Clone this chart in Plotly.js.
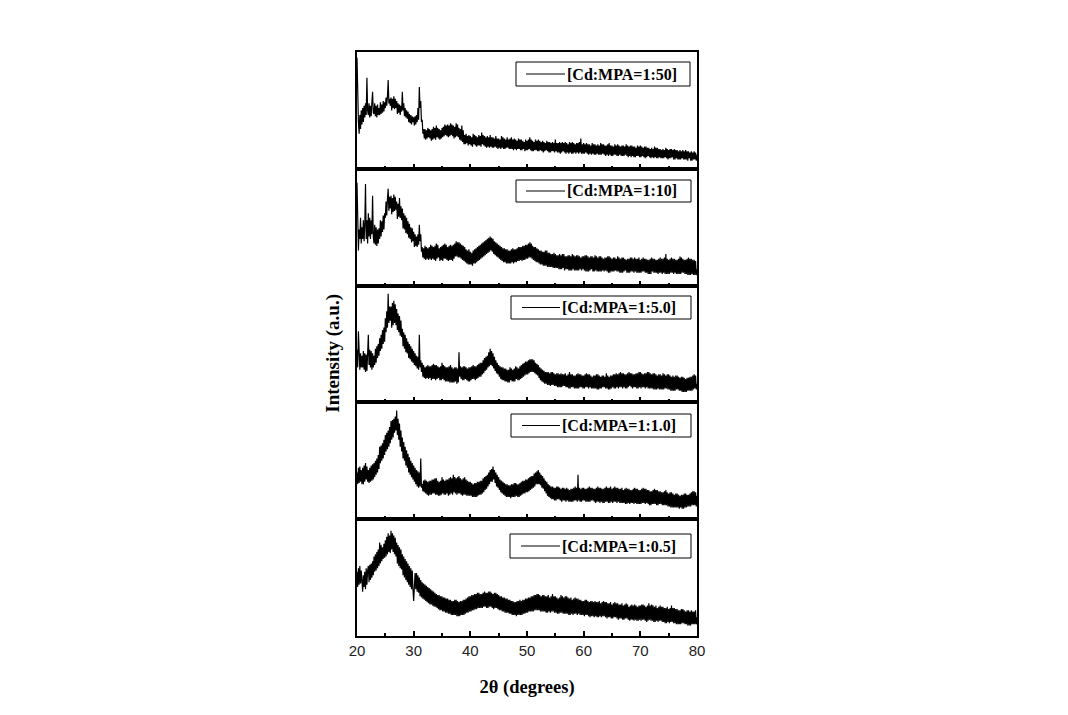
<!DOCTYPE html>
<html>
<head>
<meta charset="utf-8">
<script src="https://cdn.plot.ly/plotly-3.0.1.min.js"></script>
<style>html,body{margin:0;padding:0;background:#fff;}#chart{width:1068px;height:715px;}</style>
</head>
<body>
<div id="chart"></div>
<script>
// 2-theta sampling grid (degrees)
const thetaStart = 20;
const thetaStep = 0.125;

const sampleNames = ["[Cd:MPA=1:50]", "[Cd:MPA=1:10]", "[Cd:MPA=1:5.0]", "[Cd:MPA=1:1.0]", "[Cd:MPA=1:0.5]"];

// Intensities (a.u., each panel scaled 0-100), 8 readings per degree from 20 to 80
const intensity_1_50 = [
95,58,40,30,46,34,50,38, 52,40,54,44,56,46,78,50, 46,56,44,54,45,57,66,48, 47,56,45,54,44,55,46,52,
46,57,47,55,48,58,49,57, 52,61,54,62,76,56,60,54, 61,50,60,52,62,51,60,52, 58,47,56,48,55,46,54,49,
66,50,56,45,52,44,50,43, 49,40,47,39,46,38,45,40, 44,37,45,38,46,40,52,42, 70,52,58,40,42,30,34,26,
34,25,33,26,35,27,34,26, 33,24,34,25,36,26,35,25, 37,27,35,26,34,25,33,26, 35,27,36,28,38,29,37,28,
38,27,37,28,39,29,38,28, 37,26,36,27,39,28,38,27, 35,25,34,24,37,23,33,21, 29,21,30,22,28,20,29,21,
28,20,27,19,30,21,29,20, 28,19,27,20,29,20,28,19, 31,21,29,20,28,19,27,18, 28,19,27,18,29,19,27,18,
27,18,26,19,28,18,26,17, 26,18,25,17,28,18,27,17, 26,17,25,18,27,18,25,17, 26,17,27,17,25,16,26,17,
25,16,24,17,26,17,25,16, 25,16,24,17,23,15,25,16, 24,16,25,17,27,16,25,15, 24,15,23,16,25,16,24,15,
25,15,24,16,23,15,24,14, 23,15,22,16,24,15,23,14, 23,14,22,15,23,15,22,14, 25,15,22,14,22,14,23,13,
22,14,23,15,22,14,23,13, 22,14,21,13,23,14,22,13, 23,13,22,14,21,13,22,14, 22,13,23,14,26,13,21,13,
22,13,21,14,22,13,21,12, 21,13,20,12,22,13,21,12, 21,12,20,13,21,12,20,12, 22,12,21,13,21,12,20,11,
20,12,21,11,22,12,20,11, 20,11,19,12,21,12,20,11, 21,11,20,12,19,11,20,11, 20,11,19,12,21,11,20,10,
19,11,20,10,20,11,19,10, 19,10,18,11,20,11,19,10, 20,10,19,11,18,10,19,9, 19,10,18,11,18,10,17,9,
18,10,17,9,19,10,18,9, 18,9,17,10,17,9,16,9, 17,9,16,10,18,9,17,8, 16,9,17,9,17,10,16,8,
17,8,16,9,16,8,15,8, 16,8,15,9,16,8,15,8, 16,8,15,7,15,9,14,7, 15,7,14,8,15,8,14,7, 12];

const intensity_1_10 = [
88,36,30,48,40,58,36,50, 40,56,38,52,87,40,56,36, 62,42,58,40,56,44,77,42, 36,52,35,50,34,48,36,49,
40,56,42,55,46,60,48,62, 58,72,60,74,83,64,76,66, 77,61,75,63,78,64,76,65, 72,57,70,59,75,58,68,56,
66,49,62,48,60,45,58,44, 55,41,53,40,50,37,49,38, 46,33,44,34,42,33,44,35, 52,38,44,29,33,24,32,23,
34,22,33,23,32,22,33,23, 35,22,34,23,33,22,34,21, 36,23,35,24,32,21,33,22, 34,21,35,23,36,23,35,22,
33,21,34,22,35,22,34,21, 35,23,36,25,38,25,37,24, 37,24,36,23,35,22,34,21, 33,20,31,19,30,18,31,18,
29,18,28,17,30,19,31,19, 32,20,33,21,34,22,35,23, 36,24,37,25,38,26,39,27, 40,28,41,29,42,30,41,29,
40,27,38,26,37,25,36,24, 35,23,34,22,33,21,32,20, 32,20,31,19,31,19,30,19, 30,19,31,20,32,19,31,20,
31,20,32,21,33,21,33,22, 33,21,34,22,34,22,35,23, 35,23,36,24,37,24,36,23, 34,22,33,21,33,20,32,20,
31,19,30,18,30,18,29,17, 29,17,30,17,30,16,28,16, 28,16,27,16,27,15,28,15, 27,15,26,15,26,14,27,14,
26,14,27,15,27,13,25,14, 25,14,26,13,26,13,25,13, 27,14,26,13,25,13,26,13, 26,13,25,14,24,13,25,14,
25,13,26,12,26,12,25,12, 24,13,25,14,25,12,24,12, 26,13,25,12,24,12,25,12, 25,12,24,13,23,12,24,13,
24,12,25,11,25,11,24,12, 23,12,24,12,24,13,23,12, 25,12,24,11,23,11,24,11, 24,12,23,13,22,11,23,11,
23,11,24,12,24,12,23,11, 24,12,23,11,23,11,24,11, 22,11,23,12,24,12,23,11, 23,11,22,10,22,10,23,10,
24,12,23,11,23,11,22,11, 22,10,23,11,24,11,23,10, 23,11,24,10,27,10,23,10, 22,10,23,11,24,11,23,10,
23,11,22,10,22,10,23,10, 25,10,24,11,23,11,22,10, 22,10,23,9,24,9,23,9, 23,10,22,9,22,9,21,9, 14];

const intensity_1_5 = [
45,30,61,32,28,42,30,40, 30,44,28,42,26,41,27,42, 58,32,45,30,44,28,42,30, 40,32,46,34,48,38,50,40,
55,44,58,46,62,50,64,52, 72,60,78,64,93,68,82,70, 82,64,85,66,87,68,84,66, 80,62,76,60,74,57,70,56,
63,48,60,46,58,43,55,42, 52,38,50,37,48,35,46,34, 44,32,42,31,40,29,39,28, 58,30,36,26,34,22,32,21,
30,20,31,21,32,20,31,21, 31,19,32,20,33,20,32,19, 32,20,31,21,30,19,31,19, 34,20,32,19,31,18,30,18,
30,18,31,17,32,17,30,17, 29,17,30,18,30,16,29,17, 43,22,31,20,30,19,31,19, 31,20,30,19,29,18,30,18,
30,19,31,20,32,20,31,19, 31,20,32,21,33,22,34,22, 34,24,36,25,38,27,39,28, 40,30,43,31,46,32,44,31,
42,29,39,27,36,25,34,24, 32,22,31,20,30,19,30,19, 29,18,29,18,28,17,28,17, 30,19,29,18,28,18,29,18,
31,20,30,19,29,19,31,20, 32,21,33,22,34,23,35,24, 35,24,36,25,37,26,37,26, 37,26,36,25,34,24,33,23,
32,21,30,19,29,18,28,17, 27,16,26,16,26,15,26,15, 25,14,26,15,26,15,25,14, 24,14,25,13,25,13,24,13,
25,13,24,14,24,14,25,13, 23,13,24,12,26,12,24,13, 24,13,23,12,23,12,24,12, 25,12,24,13,24,13,23,12,
23,12,24,13,25,13,24,12, 24,13,23,12,22,12,23,12, 23,12,24,11,24,11,23,12, 22,12,23,13,23,13,22,12,
25,12,23,11,22,11,23,12, 23,13,24,12,24,12,25,13, 24,12,25,13,26,13,25,12, 25,13,24,12,24,12,25,13,
26,14,25,13,25,12,24,13, 24,13,25,12,25,12,26,13, 26,12,25,13,24,13,25,12, 25,13,26,12,26,12,25,12,
24,12,25,11,25,11,24,11, 23,12,24,11,24,11,23,11, 25,11,24,12,23,12,24,11, 24,11,23,10,22,10,23,10,
22,10,23,11,23,11,22,10, 21,10,22,9,22,9,21,9, 20,9,21,10,21,10,22,10, 22,10,23,11,24,12,23,11, 16];

const intensity_1_1 = [
40,30,44,31,45,32,42,30, 44,30,46,32,48,34,45,32, 42,31,44,32,46,33,47,34, 48,36,50,38,52,40,55,43,
62,48,63,50,65,52,68,55, 72,58,74,60,76,62,79,65, 84,68,85,70,86,74,88,76, 93,72,86,68,82,62,76,58,
70,52,66,50,62,46,59,44, 56,40,53,38,50,36,48,34, 46,32,44,30,42,28,41,27, 40,28,52,27,30,24,33,23,
34,22,33,21,32,20,33,21, 33,21,34,22,34,22,35,21, 35,21,33,20,32,20,33,21, 36,22,34,21,33,21,34,22,
34,20,35,21,36,22,35,21, 38,23,36,22,35,21,36,22, 37,22,35,21,34,20,35,21, 36,21,34,20,33,20,32,20,
32,20,31,19,30,19,31,19, 31,19,32,20,32,21,33,21, 33,22,35,23,36,25,37,26, 38,28,40,30,42,32,43,32,
45,34,42,31,40,28,38,27, 36,25,34,23,33,22,32,21, 31,20,30,19,30,19,29,19, 29,18,30,19,30,19,31,19,
31,20,30,19,30,19,31,20, 32,21,33,22,33,22,34,23, 34,23,35,24,36,25,37,26, 37,27,39,28,40,30,41,30,
42,30,40,29,38,27,37,26, 35,24,33,22,32,20,30,19, 29,18,28,17,28,17,27,16, 27,16,28,17,28,17,27,16,
26,15,27,16,27,16,26,15, 27,16,26,15,25,15,26,15, 26,15,27,16,28,16,27,15, 38,16,27,15,26,15,27,16,
27,16,26,15,26,15,27,15, 28,15,27,16,27,16,26,15, 26,14,27,15,28,15,27,14, 27,15,26,14,26,14,27,15,
28,15,27,14,27,14,28,15, 26,14,27,15,28,15,27,14, 27,15,26,14,26,14,27,14, 25,14,26,13,27,13,26,14,
26,13,25,14,25,14,26,13, 27,14,26,13,26,13,25,13, 25,13,26,14,27,14,26,13, 26,14,25,13,25,12,24,12,
24,13,25,13,26,13,25,12, 25,12,24,13,24,13,23,12, 23,12,24,12,25,12,23,11, 22,11,23,10,23,10,22,10,
21,10,22,10,22,10,21,9, 20,10,21,9,21,9,22,10, 22,10,21,11,21,11,22,11, 23,12,24,12,24,12,23,11, 20];

const intensity_1_05 = [
55,42,58,44,60,45,56,43, 38,52,42,55,40,58,44,56, 60,46,61,48,62,50,64,52, 68,55,70,56,72,58,74,60,
80,62,78,64,76,66,79,67, 82,68,85,70,88,72,86,71, 90,74,88,72,86,70,84,68, 80,62,78,60,76,58,74,57,
70,52,68,50,66,48,64,46, 62,44,60,42,58,40,56,40, 30,42,54,40,54,38,52,37, 50,34,48,33,46,32,45,31,
44,30,43,29,42,28,41,27, 40,27,39,26,38,25,37,25, 36,24,35,23,35,22,34,22, 34,21,33,21,33,20,32,20,
32,19,31,19,31,18,30,18, 30,18,31,18,31,17,30,17, 29,17,30,18,30,18,31,18, 31,19,32,20,33,20,34,21,
34,21,35,22,35,22,36,23, 36,23,37,24,37,24,36,24, 36,24,37,25,38,25,37,24, 37,24,38,25,38,25,37,24,
36,23,37,24,37,24,36,23, 35,22,34,22,34,21,33,21, 33,20,32,20,32,20,31,19, 31,19,30,18,30,18,29,18,
29,17,30,18,30,18,31,18, 30,18,31,19,31,19,32,20, 32,20,33,21,33,21,34,21, 34,21,35,22,35,22,36,22,
36,22,35,21,34,21,35,21, 35,21,34,20,34,20,35,21, 33,20,34,21,36,21,34,20, 34,20,33,19,32,19,33,20,
35,20,34,19,33,19,34,19, 34,19,33,18,32,18,33,19, 31,18,32,19,33,19,32,18, 32,19,31,18,31,18,30,18,
30,17,31,18,31,18,30,17, 29,16,30,17,30,17,29,16, 30,17,29,16,29,16,30,17, 28,16,29,17,30,17,29,16,
29,15,28,16,28,16,29,15, 27,15,28,16,29,16,28,15, 28,14,27,15,27,15,28,14, 26,14,27,15,28,15,27,14,
25,13,26,14,27,14,26,13, 27,14,26,13,25,13,26,14, 26,13,27,14,27,14,26,13, 25,12,26,13,28,14,26,13,
27,13,26,12,25,12,26,13, 24,12,25,13,26,13,25,12, 25,12,24,11,24,11,25,12, 23,11,24,12,26,12,24,11,
24,11,23,10,23,10,22,10, 22,10,23,11,23,11,22,10, 21,10,22,9,22,9,21,9, 22,10,21,10,21,10,22,10, 16];

const allSeries = [intensity_1_50, intensity_1_10, intensity_1_5, intensity_1_1, intensity_1_05];
const xTickVals = [20, 30, 40, 50, 60, 70, 80];
const xTickText = ["20", "30", "40", "50", "60", "70", "80"];

const theta = intensity_1_50.map((_, i) => thetaStart + i * thetaStep);

// geometry (pixels) for converting legend box placement into axis-domain fractions
const plotLeft = 357, plotWidth = 340, plotTop = 52, plotHeight = 584;
const nPanels = 5;
const panelH = plotHeight / nPanels;
// legend boxes: [left, right, top, bottom, lineStart, lineEnd]
const legendBoxes = [
  [516, 690, 62, 86, 526, 565],
  [516, 691, 180, 202, 526, 565],
  [511, 691, 296, 319, 522, 560],
  [511, 691, 414, 437, 522, 560],
  [510, 691, 534, 558, 521, 560]
];

const serif = 'Liberation Serif, Times New Roman, serif';
const traces = [];
const layout = {
  width: 1068, height: 715,
  margin: {l: plotLeft, r: 1068 - plotLeft - plotWidth, t: plotTop, b: 715 - plotTop - plotHeight},
  paper_bgcolor: '#fff', plot_bgcolor: '#fff',
  showlegend: false,
  annotations: [], shapes: []
};

for (let p = 0; p < nPanels; p++) {
  const sfx = p === 0 ? '' : String(p + 1);
  traces.push({
    type: 'scatter', mode: 'lines',
    x: theta, y: allSeries[p],
    name: sampleNames[p],
    xaxis: 'x' + sfx, yaxis: 'y' + sfx,
    line: {color: '#000', width: 1.2},
    hoverinfo: 'skip'
  });
  const top = 1 - p / nPanels, bot = 1 - (p + 1) / nPanels;
  layout['yaxis' + sfx] = {
    domain: [bot, top], range: [0, 100],
    showline: true, linecolor: '#000', linewidth: 2, mirror: true,
    showgrid: false, zeroline: false, ticks: '', showticklabels: false,
    anchor: 'x' + sfx, fixedrange: true
  };
  const isBottom = p === nPanels - 1;
  layout['xaxis' + sfx] = {
    range: [20, 80], anchor: 'y' + sfx,
    showline: true, linecolor: '#000', linewidth: 2, mirror: true,
    showgrid: false, zeroline: false,
    ticks: 'inside', ticklen: 5, tickwidth: 2, tickcolor: '#000',
    tickvals: xTickVals, ticktext: xTickText,
    minor: {dtick: 5, tick0: 20, ticks: 'inside', ticklen: 3, tickwidth: 2, tickcolor: '#000', showgrid: false},
    showticklabels: isBottom,
    tickfont: {family: 'Liberation Sans, Arial, sans-serif', size: 15, color: '#222'},
    fixedrange: true
  };
  if (isBottom) {
    layout['xaxis' + sfx].title = {
      text: '2θ (degrees)', standoff: 22,
      font: {family: serif, size: 18.5, color: '#000', weight: 'bold'}
    };
  }
  // legend box for this panel
  const b = legendBoxes[p];
  const pTop = plotTop + p * panelH;
  const fx = v => (v - plotLeft) / plotWidth;
  const fy = v => 1 - (v - pTop) / panelH;
  const xr = 'x' + sfx + ' domain', yr = 'y' + sfx + ' domain';
  layout.shapes.push({type: 'rect', xref: xr, yref: yr,
    x0: fx(b[0]), x1: fx(b[1]), y0: fy(b[3]), y1: fy(b[2]),
    line: {color: '#000', width: 1}, fillcolor: '#fff', layer: 'above'});
  const yc = fy((b[2] + b[3]) / 2);
  layout.shapes.push({type: 'line', xref: xr, yref: yr,
    x0: fx(b[4]), x1: fx(b[5]), y0: yc, y1: yc,
    line: {color: '#000', width: 1}, layer: 'above'});
  layout.annotations.push({text: sampleNames[p], xref: xr, yref: yr,
    x: fx(b[5]), y: yc, xanchor: 'left', yanchor: 'middle', showarrow: false,
    font: {family: serif, size: 16, color: '#000', weight: 'bold'}});
}

layout.annotations.push({
  text: 'Intensity (a.u.)', textangle: -90,
  xref: 'paper', yref: 'paper', x: -0.0706, y: 0.485,
  xanchor: 'center', yanchor: 'middle', showarrow: false,
  font: {family: serif, size: 19, color: '#000', weight: 'bold'}
});

Plotly.newPlot('chart', traces, layout, {staticPlot: true, displayModeBar: false});
</script>
</body>
</html>
